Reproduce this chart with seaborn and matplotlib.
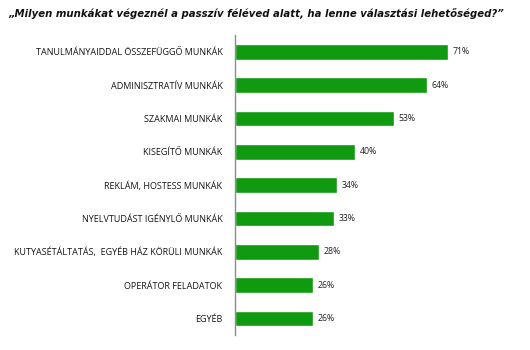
import matplotlib
matplotlib.use("Agg")
import matplotlib.pyplot as plt
import seaborn as sns
import pandas as pd

categories = [
    "TANULMÁNYAIDDAL ÖSSZEFÜGGŐ MUNKÁK",
    "ADMINISZTRATÍV MUNKÁK",
    "SZAKMAI MUNKÁK",
    "KISEGÍTŐ MUNKÁK",
    "REKLÁM, HOSTESS MUNKÁK",
    "NYELVTUDÁST IGÉNYLŐ MUNKÁK",
    "KUTYASÉTÁLTATÁS,  EGYÉB HÁZ KÖRÜLI MUNKÁK",
    "OPERÁTOR FELADATOK",
    "EGYÉB",
]
values = [71, 64, 53, 40, 34, 33, 28, 26, 26]
value_labels = ["71%", "64%", "53%", "40%", "34%", "33%", "28%", "26%", "26%"]
title = "„Milyen munkákat végeznél a passzív féléved alatt, ha lenne választási lehetőséged?”"

df = pd.DataFrame({"category": categories, "value": values})

sns.set_theme(style="white")
plt.rcParams["font.family"] = ["Open Sans", "DejaVu Sans"]

fig = plt.figure(figsize=(5.3, 3.5), dpi=100)
ax = fig.add_axes([235 / 530, 15 / 350, 270 / 530, 300 / 350])

sns.barplot(data=df, x="value", y="category", color="#109a10", width=0.47,
            saturation=1, ax=ax, orient="h")

ax.set_xlim(0, 270 / 3.0)
ax.set_ylim(len(categories) - 0.5, -0.5)
ax.set_xlabel("")
ax.set_ylabel("")
ax.set_xticks([])

for sp in ["top", "right", "bottom"]:
    ax.spines[sp].set_visible(False)
ax.spines["left"].set_color("#8c8c8c")
ax.spines["left"].set_linewidth(1.0)

# category labels at bar centres, tick marks at category boundaries
ax.set_yticks(range(len(categories)))
ax.set_yticklabels(categories, fontsize=6.5, color="#141414")
ax.tick_params(axis="y", which="major", length=0, pad=9)
ax.set_yticks([i - 0.5 for i in range(len(categories) + 1)], minor=True)
ax.tick_params(axis="y", which="minor", length=3, width=0.8, color="#8c8c8c",
               direction="out")

for i, (v, lab) in enumerate(zip(values, value_labels)):
    ax.text(v + 1.6, i, lab, va="center", ha="left", fontsize=6.3, color="#222222")

fig.text(0.015, 0.962, title, ha="left", va="center", fontsize=7.3,
         fontweight="bold", fontstyle="italic", color="#111111",
         family=["DejaVu Sans"])

fig.savefig("out.png", dpi=100, facecolor="white")
